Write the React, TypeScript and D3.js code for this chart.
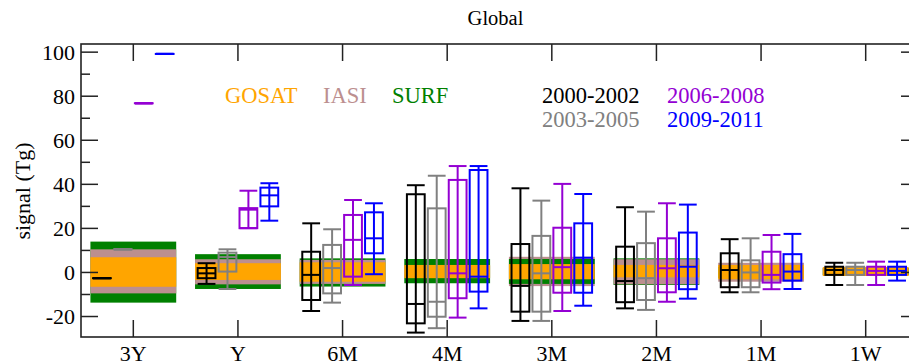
import React from "react";
import * as d3 from "d3";

// categories along x
const categories = ["3Y", "Y", "6M", "4M", "3M", "2M", "1M", "1W"];

// box stats per period: [whiskerLow, q1, median, q3, whiskerHigh]
const periods = ["2000-2002", "2003-2005", "2006-2008", "2009-2011"];
const periodColors = ["#000000", "#808080", "#9400d3", "#0000ff"];

const p2000_2002 = [
  [-2.6, -2.6, -2.6, -2.6, -2.6],
  [-5.2, -2.6, -0.4, 2.0, 4.2],
  [-17.5, -12.5, -1.1, 9.4, 22.3],
  [-27.3, -23.1, -14.3, 35.5, 39.6],
  [-22.0, -17.8, -6.1, 12.9, 38.2],
  [-16.3, -13.5, -3.9, 11.7, 29.6],
  [-9.0, -6.7, 1.1, 8.7, 15.1],
  [-5.7, -1.1, 1.1, 2.6, 4.4],
];
const p2003_2005 = [
  [10.5, 10.5, 10.5, 10.5, 10.5],
  [-7.5, 0.4, 7.0, 9.0, 10.5],
  [-13.7, -9.5, 2.0, 12.5, 19.6],
  [-25.3, -20.1, -13.3, 29.1, 43.9],
  [-22.0, -17.8, -0.4, 16.6, 32.6],
  [-17.0, -12.5, -2.6, 13.3, 27.6],
  [-9.0, -6.7, 0.0, 5.5, 15.5],
  [-5.7, -1.1, 1.1, 2.6, 4.4],
];
const p2006_2008 = [
  [76.8, 76.8, 76.8, 76.8, 76.8],
  [20.1, 20.1, 28.5, 29.2, 37.1],
  [-5.7, -1.9, 14.8, 26.1, 32.9],
  [-20.5, -11.7, -0.4, 42.0, 48.3],
  [-17.5, -9.2, 2.4, 20.3, 40.2],
  [-13.3, -9.0, 1.9, 15.5, 31.4],
  [-7.6, -4.6, -1.1, 9.4, 17.0],
  [-5.7, -1.1, 0.7, 2.6, 4.9],
];
const p2009_2011 = [
  [99.2, 99.2, 99.2, 99.2, 99.2],
  [23.5, 30.0, 35.0, 38.5, 40.5],
  [-0.8, 8.7, 15.5, 27.3, 31.4],
  [-16.3, -8.7, -1.9, 46.5, 48.3],
  [-15.1, -9.2, 6.7, 22.3, 35.6],
  [-11.9, -7.6, 2.6, 18.1, 30.8],
  [-7.5, -3.7, 0.4, 8.3, 17.5],
  [-3.7, -1.1, 0.7, 2.6, 4.9],
];
const periodStats = [p2000_2002, p2003_2005, p2006_2008, p2009_2011];

// background bands: [low, high] per category
const gosat = [[-6.5, 6.9], [-3.4, 4.2], [-4.2, 4.6], [-2.6, 3.4], [-3.1, 3.8], [-2.2, 3.4], [-3.1, 3.4], [-1.6, 2.4]];
const iasi = [[-9.5, 10.5], [-5.4, 6.0], [-5.2, 5.7], [-2.4, 3.0], [-6.2, 7.1], [-5.4, 6.0], [-4.2, 4.4], [-1.4, 2.2]];
const surf = [[-13.7, 14.0], [-7.5, 8.3], [-6.4, 6.4], [-4.9, 6.1], [-5.2, 6.1], [-5.7, 6.4], [-2.5, 2.5], [-1.2, 2.0]];
const bandNames = ["GOSAT", "IASI", "SURF"];
const bandColors = ["#ffa500", "#bc8f8f", "#008000"];
const bandData = [gosat, iasi, surf];

const majorTicks = [-20, 0, 20, 40, 60, 80, 100];
const minorTicks = [-10, 10, 30, 50, 70, 90];

const W = 909;
const H = 364;
const left = 81, right = 918, top = 44, bottom = 337;
const font = "Liberation Serif, DejaVu Serif, serif";

const App = () => {
  const x = d3.scaleLinear().domain([0.5, categories.length + 0.5]).range([left, right]);
  const y = d3.scaleLinear().domain([-29.3, 103.7]).range([bottom, top]);
  const bw = x(0.17) - x(0); // box width px

  const bands = [];
  categories.forEach((c, i) => {
    // wider of IASI / SURF first, GOSAT always on top
    const ext = (k) => bandData[k][i][1] - bandData[k][i][0];
    const order = ext(1) > ext(2) ? [1, 2, 0] : [2, 1, 0];
    order.forEach((k) => {
      const [lo, hi] = bandData[k][i];
      bands.push(
        <rect key={c + k} x={x(i + 1 - 0.41)} width={x(i + 1.41) - x(i + 0.59)}
          y={y(hi)} height={y(lo) - y(hi)} fill={bandColors[k]} />
      );
    });
  });

  const boxes = [];
  categories.forEach((c, i) => {
    periodStats.forEach((stats, j) => {
      const [lo, q1, med, q3, hi] = stats[i];
      const cx = x(i + 1 + (j - 1.5) * 0.2);
      const col = periodColors[j];
      boxes.push(
        <g key={c + j} stroke={col} strokeWidth={2} fill="none">
          <line x1={cx} x2={cx} y1={y(lo)} y2={y(hi)} />
          <rect x={cx - bw / 2} width={bw} y={y(q3)} height={Math.max(0.01, y(q1) - y(q3))} />
          <line x1={cx - bw / 2} x2={cx + bw / 2} y1={y(med)} y2={y(med)} />
          <line x1={cx - bw / 2} x2={cx + bw / 2} y1={y(lo)} y2={y(lo)} />
          <line x1={cx - bw / 2} x2={cx + bw / 2} y1={y(hi)} y2={y(hi)} />
        </g>
      );
    });
  });

  return (
    <svg width={W} height={H} style={{ position: "absolute", left: 0, top: 0, background: "#fff", fontFamily: font }}>
      <text x={(left + right) / 2 - 4} y={25} fontSize={20.5} textAnchor="middle">Global</text>
      {bands}
      {boxes}
      {/* frame */}
      <rect x={left} y={top} width={right - left} height={bottom - top} fill="none" stroke="#222" strokeWidth={1.6} />
      {majorTicks.map((t) => (
        <g key={"M" + t} stroke="#222" strokeWidth={1.5}>
          <line x1={left} x2={left + 17} y1={y(t)} y2={y(t)} />
          <line x1={right} x2={right - 17} y1={y(t)} y2={y(t)} />
        </g>
      ))}
      {minorTicks.map((t) => (
        <g key={"m" + t} stroke="#222" strokeWidth={1.5}>
          <line x1={left} x2={left + 9} y1={y(t)} y2={y(t)} />
          <line x1={right} x2={right - 9} y1={y(t)} y2={y(t)} />
        </g>
      ))}
      {majorTicks.map((t) => (
        <text key={"l" + t} x={left - 6} y={y(t) + 7.5} fontSize={22} textAnchor="end">{t}</text>
      ))}
      {categories.map((c, i) => (
        <g key={"x" + c}>
          <line x1={x(i + 1)} x2={x(i + 1)} y1={bottom} y2={bottom - 17} stroke="#222" strokeWidth={1.5} />
          <line x1={x(i + 1)} x2={x(i + 1)} y1={top} y2={top + 17} stroke="#222" strokeWidth={1.5} />
          <text x={x(i + 1)} y={361} fontSize={22} textAnchor="middle">{c}</text>
        </g>
      ))}
      <text transform="translate(30,191) rotate(-90)" fontSize={22} textAnchor="middle">signal (Tg)</text>
      {/* legends */}
      {bandNames.map((n, k) => (
        <text key={n} x={[225, 323, 392][k]} y={103} fontSize={22.5} fill={bandColors[k]}>{n}</text>
      ))}
      {periods.map((p, j) => (
        <text key={p} x={j < 2 ? 542 : 667} y={j % 2 === 0 ? 103 : 127} fontSize={22.5} fill={periodColors[j]}>{p}</text>
      ))}
    </svg>
  );
};

export default App;
